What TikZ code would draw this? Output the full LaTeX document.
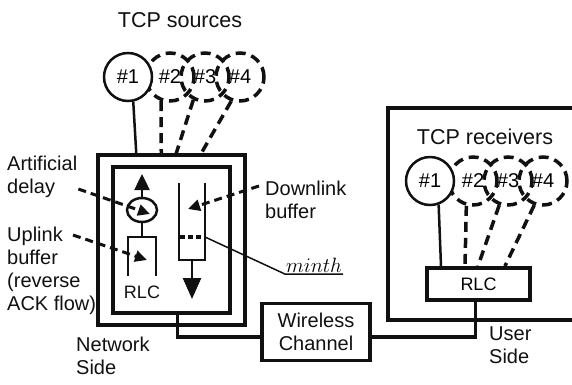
\documentclass[tikz,border=0pt]{standalone}
\usepackage{fontspec}
\setmainfont{Liberation Sans}
\usetikzlibrary{shapes.geometric, positioning, arrows.meta, calc}
\definecolor{lnkBlack}{HTML}{111111}

\begin{document}
\begin{tikzpicture}[
    x=1pt, y=-1pt,
    lbl/.style={font=\fontsize{20}{23}\selectfont, align=left, inner sep=1pt, text=lnkBlack},
    title/.style={font=\fontsize{21.5}{25}\selectfont, inner sep=1pt, text=lnkBlack},
    src/.style={circle, draw=lnkBlack, line width=2.5pt, minimum size=48pt, inner sep=0pt,
        font=\fontsize{20}{23}\selectfont},
    dsrc/.style={src, line width=3.5pt, dash pattern=on 10pt off 6pt},
    frame/.style={draw=lnkBlack, line width=3.5pt, inner sep=0pt},
    wire/.style={line width=2.5pt, draw=lnkBlack},
    dwire/.style={line width=3.5pt, draw=lnkBlack, dash pattern=on 10pt off 6pt},
    ptr/.style={line width=3pt, draw=lnkBlack, dash pattern=on 8pt off 5pt,
        -{Triangle[length=12pt, width=11pt]}},
    flow/.style={line width=2.5pt, draw=lnkBlack, -{Triangle[length=16pt, width=15pt]}}
]
\fill[white] (0,0) rectangle (572,384);
\useasboundingbox (0,0) rectangle (572,384);

% Network side: nested boxes
\node[frame, minimum width=147pt, minimum height=170pt] (netout) at (171.5,240) {};
\node[frame, line width=4.5pt, minimum width=117pt, minimum height=146pt] (netin) at (171.5,240) {};

% TCP sources
\node[title] (srctitle) at (180,20) {TCP sources};
\node[dsrc] (s4) at (240,77) {\#4};
\node[dsrc] (s3) at (205,77) {\#3};
\node[dsrc] (s2) at (170,77) {\#2};
\node[src, fill=white] (s1) at (128,77) {\#1};

\draw[wire] (s1.282) -- ($(netout.north west)+(40,0)$);
\draw[dwire] (s2.250) -- ($(netout.north west)+(65,0)$);
\draw[dwire] (s3.243) -- ($(netout.north west)+(80,0)$);
\draw[dwire] (s4.250) -- ($(netout.north west)+(105,0)$);

% Uplink path: RLC -> buffer -> delay -> up
\node[ellipse, draw=lnkBlack, line width=2.5pt, minimum width=30pt, minimum height=24pt, inner sep=0pt] (delay) at (142,210) {};
\coordinate (uptip) at (142,174);
\coordinate (upbuf) at (142,237);
\draw[flow] (delay.north) -- (uptip);
\draw[wire] (delay.south) -- (upbuf);
\draw[wire] ($(upbuf)+(-14,39)$) |- ($(upbuf)+(14,0)$) -- ++(0,39);
\node[lbl, font=\fontsize{18}{21}\selectfont] (rlcN) at (142,292) {RLC};

% Downlink buffer with minth mark
\coordinate (dlbuf) at (192,260);
\coordinate (dltip) at (192,299);
\coordinate (mth) at (205,237);
\draw[wire] ($(dlbuf)+(-13,-77)$) |- ($(dlbuf)+(13,0)$) -- ++(0,-77);
\draw[line width=2.5pt, draw=lnkBlack, -{Triangle[length=21pt, width=18pt]}] (dlbuf) -- (dltip);
\draw[line width=3.5pt, draw=lnkBlack, dash pattern=on 5pt off 3pt] ($(mth)+(-25,0)$) -- (mth);
\node[anchor=south, inner sep=1pt, font=\fontsize{20}{24}\selectfont] (minth) at (314,274) {$minth$};
\draw[line width=1.5pt, draw=lnkBlack] (mth) -- (minth.south west) -- (minth.south east);

% Labels and pointers
\node[lbl, anchor=north west] (delaylbl) at (6,155) {Artificial\\delay};
\node[lbl, anchor=north west] (uplbl) at (6,226) {Uplink\\buffer\\(reverse\\ACK flow)};
\node[lbl, anchor=north west] (dllbl) at (264,180) {Downlink\\buffer};
\node[lbl, anchor=north west] (netlbl) at (75,336) {Network\\Side};
\draw[ptr] ($(delaylbl.east)+(0,12)$) -- ($(delay.center)+(8,4)$);
\draw[ptr] ($(uplbl.north west)+(67,9)$) -- ($(upbuf)+(5,23)$);
\draw[ptr] ($(dllbl.north west)+(-5,6)$) -- ($(dlbuf)+(-4,-51)$);

% Wireless channel
\node[frame, lbl, inner sep=0pt, align=center, minimum width=108pt, minimum height=57pt] (wless) at (316,332) {Wireless\\Channel};
\draw[wire, line width=3.5pt] ($(netin.south)+(6,0)$) |- ($(wless.west)+(0,5)$);

% User side
\node[frame, minimum width=212pt, minimum height=212pt] (rcvbox) at (494,214) {};
\node[title] (rcvtitle) at (485,137) {TCP receivers};
\node[frame, line width=4pt, minimum width=103pt, minimum height=32pt, font=\fontsize{18}{21}\selectfont] (rlcR) at (478.5,284) {RLC};
\node[dsrc] (r4) at (543,181) {\#4};
\node[dsrc] (r3) at (508,181) {\#3};
\node[dsrc] (r2) at (473,181) {\#2};
\node[src, fill=white] (r1) at (430,181) {\#1};

\draw[wire] (r1.290) -- ($(rlcR.north west)+(16,0)$);
\draw[dwire] (r2.255) -- ($(rlcR.north west)+(40,0)$);
\draw[dwire] (r3.250) -- ($(rlcR.north west)+(53,0)$);
\draw[dwire] (r4.250) -- ($(rlcR.north west)+(80,0)$);
\draw[wire, line width=3.5pt] ($(wless.east)+(0,5)$) -| ($(rlcR.south)+(-3,0)$);
\node[lbl, anchor=north west] (userlbl) at (488,326) {User\\Side};

\end{tikzpicture}
\end{document}
